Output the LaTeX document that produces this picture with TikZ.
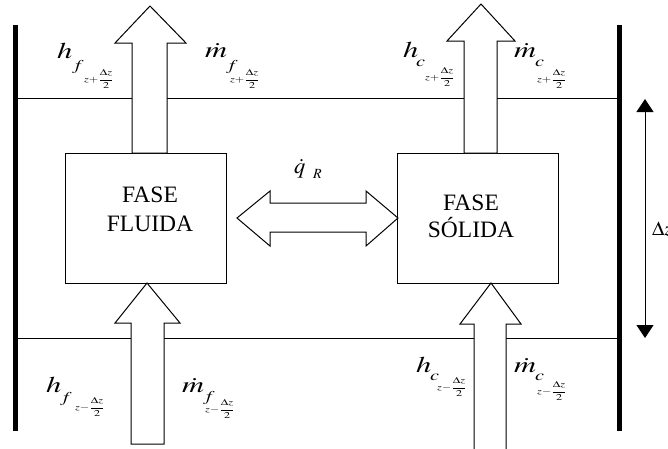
\documentclass[tikz,border=0pt]{standalone}
\usepackage{graphicx}
\usepackage{mathptmx}
\usepackage[no-math]{fontspec}
\setmainfont{Liberation Serif}
\usetikzlibrary{arrows.meta}
\newcommand{\wide}[1]{\scalebox{1.35}[1]{#1}}
\newcommand{\fp}{\wide{$\displaystyle z{+}\frac{\Delta z}{2}$}}
\newcommand{\fm}{\wide{$\displaystyle z{-}\frac{\Delta z}{2}$}}
\tikzset{
  x=1pt,y=-1pt,
  blk/.style={draw=black,fill=white,line width=1pt,line join=miter},
  wall/.style={fill=black},
  level/.style={draw=black,line width=0.9pt},
  phase/.style={draw=black,line width=1pt,inner sep=0pt,minimum width=161pt,minimum height=130pt},
  big/.style={font=\fontsize{22.5}{26}\selectfont,inner sep=0pt,anchor=base west},
  sml/.style={font=\fontsize{15}{18}\selectfont,inner sep=0pt,anchor=base west},
  frc/.style={font=\fontsize{9}{11}\selectfont,inner sep=0pt,anchor=west},
  boxtxt/.style={font=\fontsize{23.5}{29}\selectfont,inner sep=0pt,anchor=base},
  dz/.style={draw=black,line width=1pt,{Triangle[length=13pt,width=17pt]}-{Triangle[length=13pt,width=17pt]}}
}
\begin{document}
\begin{tikzpicture}
\useasboundingbox (0,0) rectangle (668,448);
% walls
\fill[wall] (13,25) rectangle (18,431);
\fill[wall] (617,25) rectangle (622,431);
% levels
\coordinate (tl) at (18,98);
\coordinate (tr) at (617,98);
\coordinate (bl) at (18,338);
\coordinate (br) at (617,338);
\draw[level] (tl) -- (tr);
\draw[level] (bl) -- (br);
% phases
\node[phase] (fluid) at (145.5,218) {};
\node[phase] (solid) at (478,218) {};
\node[boxtxt] (f1) at (150,202) {FASE};
\node[boxtxt] (f2) at (150,231) {FLUIDA};
\node[boxtxt] (s1) at (471,210) {FASE};
\node[boxtxt] (s2) at (471,237) {SÓLIDA};
% block arrows
\draw[blk] (132,153) -- (132,43) -- (115,43) -- (150,6) -- (186,43) -- (167,43) -- (167,153) -- cycle;
\draw[blk] (464,153) -- (464,41) -- (447,41) -- (481,4) -- (515,41) -- (497,41) -- (497,153) -- cycle;
\draw[blk] (131,444) -- (131,323) -- (115,323) -- (147,283) -- (180,323) -- (164,323) -- (164,444) -- cycle;
\draw[blk] (474,452) -- (474,324) -- (460,324) -- (491,283) -- (521,324) -- (506,324) -- (506,452) -- cycle;
\draw[blk] (237,218) -- (270,191) -- (270,203) -- (366,203) -- (366,191) -- (398,218) -- (366,246) -- (366,232) -- (270,232) -- (270,246) -- cycle;
% delta z
\coordinate (dzt) at (645,99);
\coordinate (dzb) at (645,338);
\draw[dz] (dzt) -- (dzb);
\node[big,font=\fontsize{20}{24}\selectfont] (dzl) at (652,235) {$\Delta z$};
% q_R
\node[big] (q) at (294,173) {$\dot{q}$};
\node[sml,font=\fontsize{14}{16}\selectfont] (qr) at (313,178) {$R$};
% top labels
\node[big] (h1) at (57,58) {\wide{$h$}};
\node[sml] (h1s) at (72,70) {\wide{$f$}};
\node[frc] (h1f) at (84,79) {\fp};
\node[big] (m1) at (205,57) {\wide{$\dot{m}$}};
\node[sml] (m1s) at (226,70) {\wide{$f$}};
\node[frc] (m1f) at (230,79) {\fp};
\node[big] (h2) at (403,57) {\wide{$h$}};
\node[sml] (h2s) at (416,66) {\wide{$c$}};
\node[frc] (h2f) at (425,77) {\fp};
\node[big] (m2) at (514,57) {\wide{$\dot{m}$}};
\node[sml] (m2s) at (535,66) {\wide{$c$}};
\node[frc] (m2f) at (537,79) {\fp};
% bottom labels
\node[big] (h3) at (46,392) {\wide{$h$}};
\node[sml] (h3s) at (60,402) {\wide{$f$}};
\node[frc] (h3f) at (75,407) {\fm};
\node[big] (m3) at (182,392) {\wide{$\dot{m}$}};
\node[sml] (m3s) at (203,401) {\wide{$f$}};
\node[frc] (m3f) at (205,409) {\fm};
\node[big] (h4) at (416,372) {\wide{$h$}};
\node[sml] (h4s) at (430,380) {\wide{$c$}};
\node[frc] (h4f) at (437,387) {\fm};
\node[big] (m4) at (514,372) {\wide{$\dot{m}$}};
\node[sml] (m4s) at (535,380) {\wide{$c$}};
\node[frc] (m4f) at (537,391) {\fm};
\end{tikzpicture}
\end{document}
